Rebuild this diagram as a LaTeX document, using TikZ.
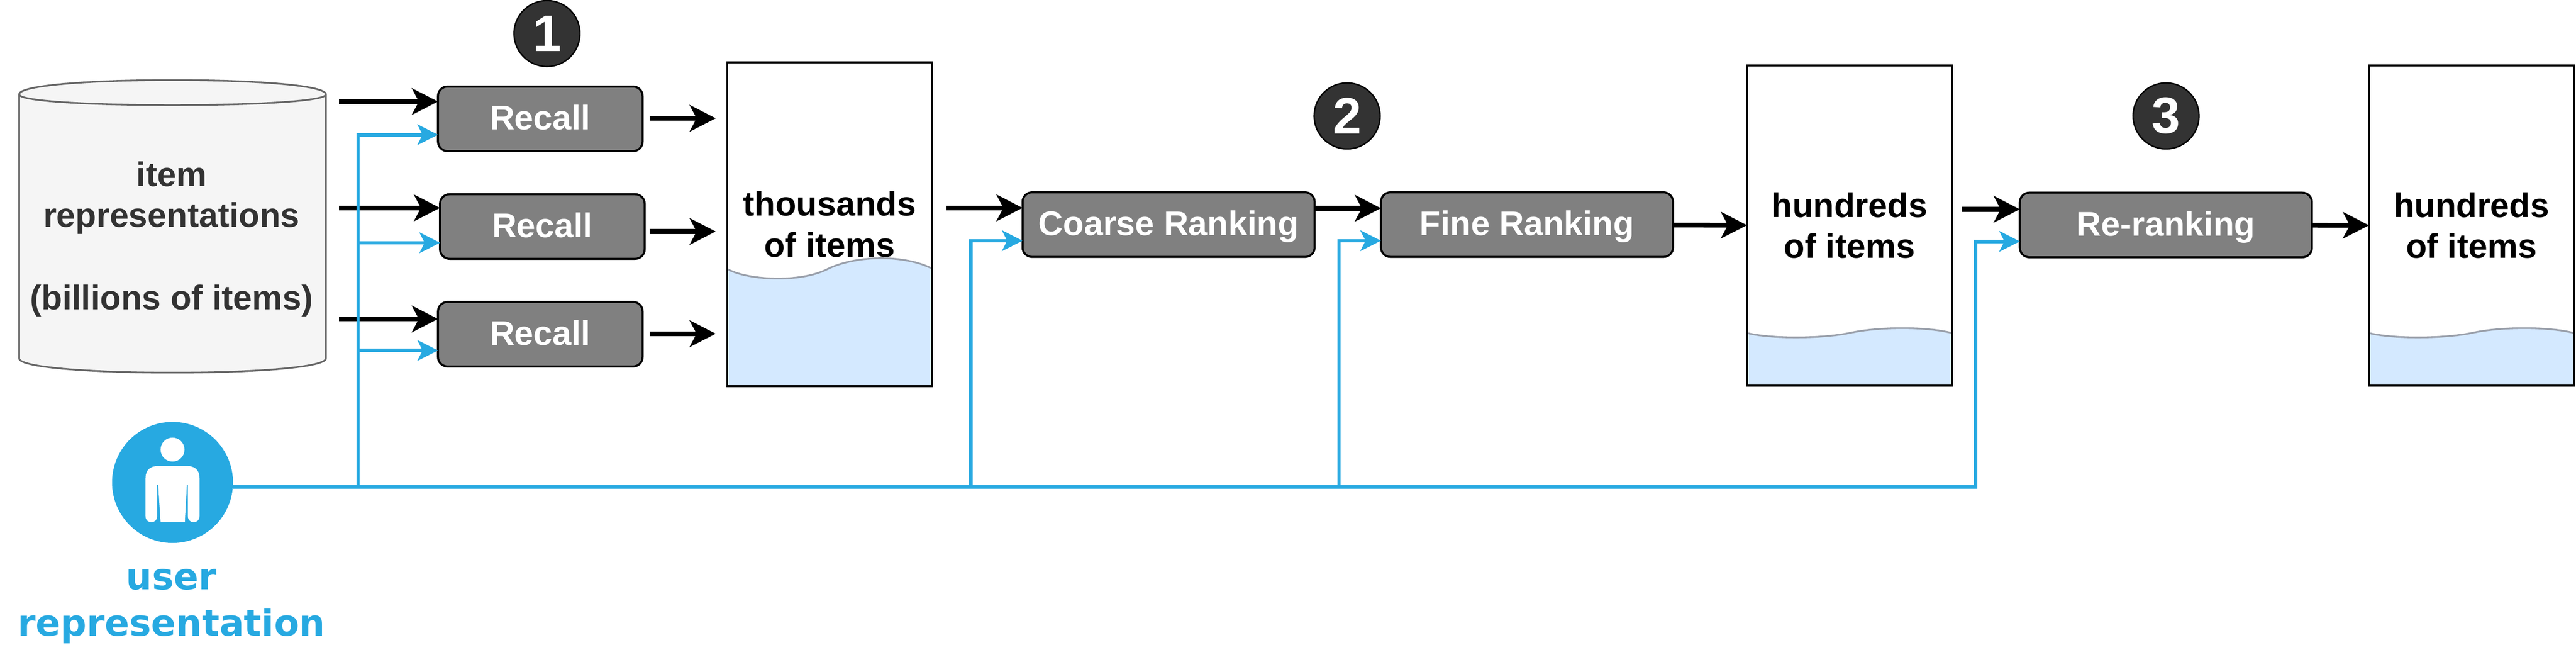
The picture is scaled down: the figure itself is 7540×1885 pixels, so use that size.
\documentclass[tikz,border=0pt]{standalone}
\usepackage{fontspec}
\setmainfont{Liberation Sans}
\newfontfamily\userfont{DejaVu Sans}
\usetikzlibrary{arrows.meta}
\definecolor{userblue}{HTML}{27A9E1}
\definecolor{waterblue}{HTML}{D4E9FF}
\definecolor{waterline}{HTML}{999FAA}
\tikzset{
  blackarrow/.style={line width=1.4pt, -{Stealth[length=7.6pt,width=7.7pt,inset=2pt]}},
  bluearrow/.style={userblue, line width=1pt, -{Stealth[length=6pt,width=6pt,inset=1.5pt]}},
  procbox/.style={draw, fill=black!50, line width=.6pt, rounded corners=2.8pt, text=white,
    font=\bfseries\fontsize{10}{12}\selectfont, inner sep=0pt, outer sep=0pt,
    minimum width=#1, minimum height=18.9pt, text height=8pt, text depth=1.6pt},
  listbox/.style={draw, line width=.6pt, align=center, inner sep=0pt, outer sep=0pt,
    font=\bfseries\fontsize{10}{12}\selectfont, minimum width=60pt, minimum height=#1,
    execute at begin node=\rule{0pt}{8.5pt}},
  badge/.style={circle, draw, fill=black!80, line width=.4pt, text=white, inner sep=0pt,
    minimum size=19.3pt, font=\bfseries\fontsize{15}{18}\selectfont},
}
\begin{document}
\begin{tikzpicture}[x=.1pt, y=-.1pt]
  \useasboundingbox (0, 0) rectangle (7540, 1885);

  % item store
  \draw[black!60, fill=black!4, line width=.5pt]
    (56, 276) .. controls (56, 220) and (954, 220) .. (954, 276) -- (954, 1048)
    .. controls (954, 1104) and (56, 1104) .. (56, 1048) -- cycle;
  \draw[black!60, line width=.5pt] (56, 276) .. controls (56, 318) and (954, 318) .. (954, 276);
  \node[align=center, text=black!80, inner sep=0pt, font=\bfseries\fontsize{10}{12}\selectfont] (items) at (502, 699)
    {item\\representations\\\mbox{}\\(billions of items)};

  % water levels
  \fill[waterblue] (2128, 786) .. controls (2180, 818) and (2340, 830) .. (2424, 786)
    .. controls (2510, 745) and (2650, 745) .. (2729, 786) -- (2729, 1130) -- (2128, 1130) -- cycle;
  \draw[waterline, line width=.5pt] (2128, 786) .. controls (2180, 818) and (2340, 830) .. (2424, 786)
    .. controls (2510, 745) and (2650, 745) .. (2729, 786);
  \fill[waterblue] (5114, 974) .. controls (5180, 991) and (5330, 991) .. (5413, 974)
    .. controls (5500, 955) and (5640, 955) .. (5713, 974) -- (5713, 1128) -- (5114, 1128) -- cycle;
  \draw[waterline, line width=.5pt] (5114, 974) .. controls (5180, 991) and (5330, 991) .. (5413, 974)
    .. controls (5500, 955) and (5640, 955) .. (5713, 974);
  \fill[waterblue] (6934, 974) .. controls (7000, 991) and (7150, 991) .. (7234, 974)
    .. controls (7320, 955) and (7460, 955) .. (7534, 974) -- (7534, 1128) -- (6934, 1128) -- cycle;
  \draw[waterline, line width=.5pt] (6934, 974) .. controls (7000, 991) and (7150, 991) .. (7234, 974)
    .. controls (7320, 955) and (7460, 955) .. (7534, 974);

  \node[procbox=59.9pt] (recallA) at (1581.5, 347.5) {Recall};
  \node[procbox=59.9pt] (recallB) at (1587.5, 662.5) {Recall};
  \node[procbox=59.9pt] (recallC) at (1581.5, 977.5) {Recall};
  \node[procbox=85.5pt] (coarse) at (3420.5, 657) {Coarse Ranking};
  \node[procbox=85.5pt] (fine) at (4469.5, 657) {Fine Ranking};
  \node[procbox=85.5pt] (rerank) at (6339.5, 658) {Re-ranking};

  \node[listbox=94.8pt] (thousands) at (2428.5, 656) {thousands\\of items};
  \node[listbox=93.7pt] (hundredsA) at (5413.5, 659.5) {hundreds\\of items};
  \node[listbox=93.7pt] (hundredsB) at (7234, 659.5) {hundreds\\of items};

  \node[badge] (badgeA) at (1601, 98) {1};
  \node[badge] (badgeB) at (3943, 339) {2};
  \node[badge] (badgeC) at (6340, 339) {3};

  % free ends of the connectors
  \coordinate (inA) at (992, 297);
  \coordinate (inB) at (992, 608);
  \coordinate (inC) at (992, 933);
  \coordinate (outA) at (2095, 346);
  \coordinate (outB) at (2095, 677);
  \coordinate (outC) at (2095, 976);
  \coordinate (inCoarse) at (2768, 608);
  \coordinate (inFine) at (3848, 609);
  \coordinate (inRerank) at (5742, 612);

  \draw[blackarrow] (inA) -- (inA -| recallA.west);
  \draw[blackarrow] (inB) -- (inB -| recallB.west);
  \draw[blackarrow] (inC) -- (inC -| recallC.west);
  \draw[blackarrow, shorten <=2pt] (outA -| recallA.east) -- (outA);
  \draw[blackarrow, shorten <=1.4pt] (outB -| recallB.east) -- (outB);
  \draw[blackarrow, shorten <=2pt] (outC -| recallC.east) -- (outC);
  \draw[blackarrow] (inCoarse) -- (inCoarse -| coarse.west);
  \draw[blackarrow] (coarse.east |- inFine) -- (fine.west |- inFine);
  \draw[blackarrow] (fine) -- (hundredsA);
  \draw[blackarrow] (inRerank) -- (inRerank -| rerank.west);
  \draw[blackarrow] (rerank) -- (hundredsB);

  % user
  \node[circle, fill=userblue, inner sep=0pt, outer sep=0pt, minimum size=35.4pt] (user) at (505, 1411) {};
  \fill[white] (505, 1315) circle (3.5pt);
  \fill[white] (426, 1398) .. controls (426, 1375) and (440, 1363) .. (462, 1363) -- (548, 1363)
    .. controls (570, 1363) and (584, 1375) .. (584, 1398) -- (584, 1510)
    .. controls (584, 1533) and (550, 1533) .. (550, 1510) -- (550, 1418) -- (547, 1418) -- (541, 1527)
    -- (470, 1527) -- (463, 1418) -- (460, 1418) -- (460, 1510)
    .. controls (460, 1533) and (426, 1533) .. (426, 1510) -- cycle;
  \node[align=center, text=userblue, inner sep=0pt, font=\userfont\bfseries\fontsize{10.7}{13.6}\selectfont] (userText) at (502, 1773)
    {user\\representation};

  \coordinate (busA) at (1048, 1424);
  \coordinate (busB) at (2842, 1424);
  \coordinate (busC) at (3919, 1424);
  \coordinate (busD) at (5782, 1424);
  \coordinate (tapA) at (1048, 394);
  \coordinate (tapB) at (1048, 710);
  \coordinate (tapC) at (1048, 1025);
  \coordinate (tapCoarse) at (2842, 704);
  \coordinate (tapFine) at (3919, 704);
  \coordinate (tapRerank) at (5782, 706);

  \draw[bluearrow] (user.east |- busD) -- (busD) -- (tapRerank) -- (tapRerank -| rerank.west);
  \draw[bluearrow] (busA) -- (tapA) -- (tapA -| recallA.west);
  \draw[bluearrow] (tapB) -- (tapB -| recallB.west);
  \draw[bluearrow] (tapC) -- (tapC -| recallC.west);
  \draw[bluearrow] (busB) -- (tapCoarse) -- (tapCoarse -| coarse.west);
  \draw[bluearrow] (busC) -- (tapFine) -- (tapFine -| fine.west);
\end{tikzpicture}
\end{document}
